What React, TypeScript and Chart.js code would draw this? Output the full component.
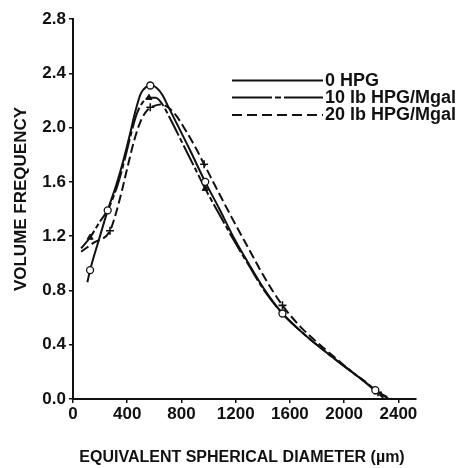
import React, { useEffect, useRef } from "react";
import { Chart, registerables } from "chart.js";

Chart.register(...registerables);

// ---- data ----
const seriesLabels = ["0 HPG", "10 lb HPG/Mgal", "20 lb HPG/Mgal"];

const xTickValues = [0, 400, 800, 1200, 1600, 2000, 2400];
const yTickValues = [0, 0.4, 0.8, 1.2, 1.6, 2.0, 2.4, 2.8];

// 0 HPG curve
const hpg0X = [106, 126, 190, 256, 320, 372, 420, 460, 500, 540, 580, 620, 660, 700, 760, 860, 975, 1080, 1180, 1300, 1410, 1545, 1680, 1810, 1950, 2070, 2160, 2230, 2330];
const hpg0Y = [0.86, 0.95, 1.17, 1.39, 1.58, 1.76, 1.95, 2.12, 2.25, 2.30, 2.31, 2.29, 2.24, 2.16, 2.04, 1.84, 1.60, 1.40, 1.20, 0.99, 0.81, 0.63, 0.50, 0.39, 0.28, 0.19, 0.12, 0.065, 0.0];
// 10 lb HPG/Mgal curve
const hpg10X = [60, 126, 200, 260, 330, 380, 430, 470, 510, 560, 610, 660, 720, 800, 900, 975, 1080, 1180, 1300, 1410, 1545, 1680, 1810, 1950, 2070, 2160, 2240, 2300];
const hpg10Y = [1.11, 1.19, 1.31, 1.40, 1.58, 1.76, 1.96, 2.10, 2.18, 2.22, 2.22, 2.17, 2.06, 1.90, 1.70, 1.55, 1.36, 1.18, 0.98, 0.80, 0.63, 0.50, 0.39, 0.28, 0.19, 0.12, 0.05, 0.0];
// 20 lb HPG/Mgal curve
const hpg20X = [60, 150, 273, 320, 362, 400, 450, 500, 550, 600, 650, 700, 760, 830, 900, 967, 1080, 1180, 1300, 1410, 1545, 1680, 1810, 1950, 2070, 2160, 2250, 2350];
const hpg20Y = [1.085, 1.15, 1.24, 1.38, 1.54, 1.70, 1.90, 2.05, 2.13, 2.16, 2.17, 2.15, 2.09, 1.98, 1.86, 1.73, 1.51, 1.32, 1.10, 0.90, 0.69, 0.53, 0.41, 0.29, 0.19, 0.125, 0.05, 0.0];

// plotted markers
const hpg0MarkX = [126, 256, 570, 975, 1545, 2230];
const hpg0MarkY = [0.95, 1.39, 2.31, 1.60, 0.63, 0.065];
const hpg10MarkX = [126, 560, 975, 2240];
const hpg10MarkY = [1.19, 2.22, 1.55, 0.05];
const hpg20MarkX = [273, 570, 967, 1545, 2250];
const hpg20MarkY = [1.24, 2.15, 1.73, 0.69, 0.05];

const xTitle = "EQUIVALENT SPHERICAL DIAMETER (\u00b5m)";
const yTitle = "VOLUME FREQUENCY";

const FONT = "'Liberation Sans', Arial, Helvetica, sans-serif";
const INK = "#111";

const zip = (xs: number[], ys: number[]) => xs.map((x, i) => ({ x, y: ys[i] }));

const lineDashes = [[], [22, 3, 5, 3], [9, 4]];
const legendDashes = [[], [40, 3, 6, 3], [10, 5]];

const decorPlugin = {
  id: "decor",
  afterDraw(chart: any) {
    const ctx = chart.ctx as CanvasRenderingContext2D;
    ctx.save();
    // legend
    const rows = [80.5, 97.5, 115];
    seriesLabels.forEach((label, i) => {
      const y = rows[i];
      ctx.beginPath();
      ctx.setLineDash(legendDashes[i]);
      ctx.lineWidth = 2;
      ctx.strokeStyle = INK;
      ctx.moveTo(232, y);
      ctx.lineTo(323, y);
      ctx.stroke();
      ctx.setLineDash([]);
      ctx.fillStyle = INK;
      ctx.font = `bold 18px ${FONT}`;
      ctx.textAlign = "left";
      ctx.textBaseline = "middle";
      ctx.fillText(label, 325, y + 0.5);
    });
    // axis titles
    ctx.fillStyle = INK;
    ctx.font = `bold 16px ${FONT}`;
    ctx.textAlign = "center";
    ctx.textBaseline = "middle";
    ctx.fillText(xTitle, 242, 458);
    ctx.translate(21, 199);
    ctx.rotate(-Math.PI / 2);
    ctx.font = `bold 17px ${FONT}`;
    ctx.fillText(yTitle, 0, 0);
    ctx.restore();
  },
};

export default function App() {
  const ref = useRef<HTMLCanvasElement | null>(null);

  useEffect(() => {
    if (!ref.current) return;
    const markerBase = {
      type: "scatter" as const,
      showLine: false,
      borderColor: INK,
      pointHoverRadius: 0,
    };
    const chart = new Chart(ref.current, {
      type: "line",
      data: {
        datasets: [
          {
            ...markerBase,
            label: "m0",
            data: zip(hpg0MarkX, hpg0MarkY),
            pointStyle: "circle",
            pointRadius: 3.5,
            pointBackgroundColor: "#fff",
            pointBorderColor: INK,
            pointBorderWidth: 1.3,
          },
          {
            ...markerBase,
            label: "m10",
            data: zip(hpg10MarkX, hpg10MarkY),
            pointStyle: "triangle",
            pointRadius: 3.5,
            pointBackgroundColor: INK,
            pointBorderColor: INK,
            pointBorderWidth: 1,
          },
          {
            ...markerBase,
            label: "m20",
            data: zip(hpg20MarkX, hpg20MarkY),
            pointStyle: "cross",
            pointRadius: 4,
            pointBackgroundColor: INK,
            pointBorderColor: INK,
            pointBorderWidth: 1.6,
          },
          ...[
            zip(hpg0X, hpg0Y),
            zip(hpg10X, hpg10Y),
            zip(hpg20X, hpg20Y),
          ].map((d, i) => ({
            type: "line" as const,
            label: seriesLabels[i],
            data: d,
            borderColor: INK,
            borderWidth: 2,
            borderDash: lineDashes[i],
            pointRadius: 0,
            fill: false,
            cubicInterpolationMode: "monotone" as const,
          })),
        ],
      } as any,
      options: {
        responsive: false,
        animation: false,
        events: [],
        layout: { padding: { top: 19, right: 45, left: 0, bottom: 0 } },
        plugins: {
          legend: { display: false },
          tooltip: { enabled: false },
          title: { display: false },
        },
        scales: {
          x: {
            type: "linear",
            min: 0,
            max: 2530,
            afterBuildTicks: (s: any) => {
              s.ticks = xTickValues.map((v) => ({ value: v }));
            },
            afterFit: (s: any) => {
              s.height = 69;
            },
            border: { display: true, color: INK, width: 2 },
            grid: {
              display: true,
              drawOnChartArea: false,
              drawTicks: true,
              tickLength: 4,
              color: INK,
              lineWidth: 1.5,
            },
            ticks: {
              autoSkip: false,
              maxRotation: 0,
              padding: 1,
              color: INK,
              font: { family: FONT, size: 17, weight: "bold" },
              callback: (v: any) => String(v),
            },
          },
          y: {
            type: "linear",
            min: 0,
            max: 2.8,
            afterBuildTicks: (s: any) => {
              s.ticks = yTickValues.map((v) => ({ value: v }));
            },
            afterFit: (s: any) => {
              s.width = 73;
            },
            border: { display: true, color: INK, width: 2 },
            grid: {
              display: true,
              drawOnChartArea: false,
              drawTicks: true,
              tickLength: 4,
              color: INK,
              lineWidth: 1.5,
            },
            ticks: {
              autoSkip: false,
              padding: 3,
              color: INK,
              font: { family: FONT, size: 17, weight: "bold" },
              callback: (v: any) => Number(v).toFixed(1),
            },
          },
        },
      } as any,
      plugins: [decorPlugin],
    });
    return () => chart.destroy();
  }, []);

  return (
    <div style={{ position: "fixed", left: 0, top: 0, width: 461, height: 468, background: "#fff" }}>
      <canvas ref={ref} width={461} height={468} style={{ display: "block" }} />
    </div>
  );
}
